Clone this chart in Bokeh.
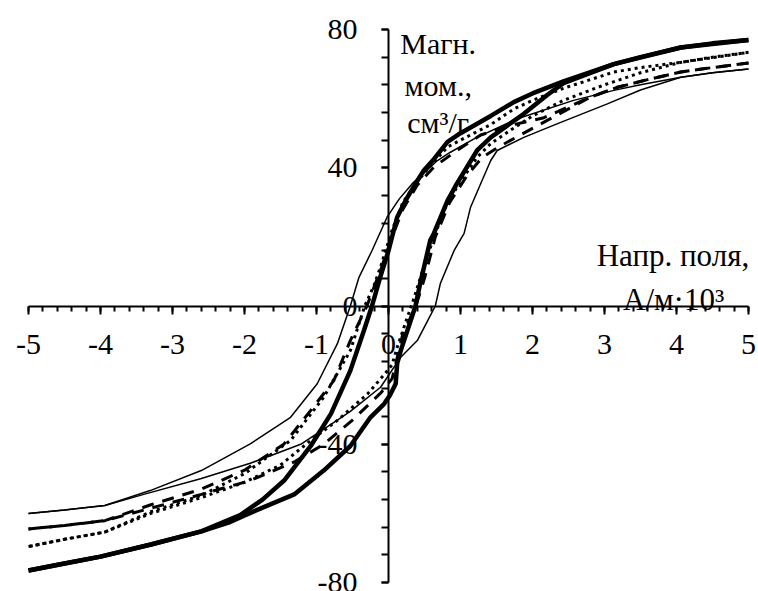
from bokeh.plotting import figure
from bokeh.models import SingleIntervalTicker, Label, CustomJSTickFormatter
from bokeh.embed import file_html
from bokeh.resources import INLINE

# --- data ---
thick_desc_x = [5.0, 4.5, 4.06, 3.5, 3.13, 2.43, 2.0, 1.74, 1.42, 1.0, 0.82, 0.63, 0.49, 0.375, 0.25, 0.12, 0.0, -0.12, -0.23, -0.34, -0.53, -0.8, -1.08, -1.45, -1.75, -2.06, -2.6, -3.3, -4.0, -4.5, -5.0]
thick_desc_y = [77, 76, 74.8, 72, 70, 65, 61.5, 59, 55, 50, 47.5, 42.5, 39.2, 35.4, 31, 25.7, 16, 8, 0, -7, -18.7, -31.2, -40.5, -50.5, -56, -60.5, -65.2, -69, -72.5, -74.5, -76.5]
thick_asc_x = [-5.0, -4.5, -4.0, -3.3, -2.6, -2.2, -1.88, -1.31, -0.9, -0.53, -0.25, -0.06, 0.02, 0.1, 0.12, 0.17, 0.375, 0.44, 0.58, 0.63, 0.82, 0.95, 1.23, 1.42, 1.88, 2.2, 2.43, 3.13, 4.06, 5.0]
thick_asc_y = [-76.5, -74.5, -72.5, -69, -65.2, -62.5, -59.5, -54.5, -47.6, -40.5, -32.2, -28.3, -25.8, -22.5, -16.7, -12.9, 0, 6.5, 19, 21, 30.5, 35.4, 45, 48.8, 55.6, 61, 64.5, 70, 74.8, 77]

dot_desc_x = [5.0, 4.5, 4.06, 3.5, 3.13, 2.43, 2.0, 1.74, 1.42, 1.0, 0.82, 0.6, 0.4, 0.2, 0.05, -0.1, -0.2, -0.33, -0.53, -0.9, -1.36, -2.0, -2.6, -3.3, -3.94, -4.5, -5.0]
dot_desc_y = [73.4, 72, 70.5, 69, 67.7, 63, 59.5, 57, 52.5, 48, 46, 41, 36, 30, 22, 12, 6, 0, -12.9, -26.4, -38.9, -48.5, -54.8, -59.5, -65.4, -67.5, -69.6]
dot_asc_x = [-5.0, -4.5, -3.94, -3.3, -2.61, -2.0, -1.5, -1.08, -0.71, -0.29, -0.07, 0.05, 0.12, 0.25, 0.35, 0.5, 0.65, 0.82, 1.0, 1.23, 1.42, 1.74, 2.0, 2.43, 3.0, 3.5, 4.06, 5.0]
dot_asc_y = [-69.6, -67.5, -65.4, -60, -55.5, -51, -46, -38.9, -33.1, -25.4, -20.1, -17, -12, -4, 2, 12, 21, 30, 36, 43, 47, 51.5, 55, 59.5, 64, 67.5, 70.5, 73.4]

dash_desc_x = [5.0, 4.5, 4.06, 3.6, 3.18, 2.8, 2.16, 1.74, 1.28, 0.95, 0.63, 0.4, 0.2, 0.05, -0.1, -0.3, -0.53, -0.76, -1.08, -1.45, -2.0, -2.6, -3.3, -3.94, -4.5, -5.0]
dash_desc_y = [70.3, 69, 67.7, 65.5, 63.3, 60.4, 54.5, 52.5, 49.5, 45, 40.2, 35, 28, 20, 11, 0, -10, -21.6, -30.2, -39.9, -47.5, -53, -57.5, -62.1, -63.5, -64.5]
dash_asc_x = [-5.0, -4.5, -3.94, -3.3, -2.6, -1.92, -1.3, -0.9, -0.5, -0.1, 0.05, 0.12, 0.2, 0.38, 0.5, 0.65, 0.85, 1.1, 1.3, 1.56, 2.16, 2.8, 3.18, 3.6, 4.06, 4.5, 5.0]
dash_asc_y = [-64.5, -63.5, -62.1, -58.5, -54.5, -50.5, -45, -40, -33, -25, -21, -15, -8, 0, 8, 20, 30, 38, 43, 46.4, 53.2, 60.4, 63.3, 65.5, 67.7, 69, 70.3]

thin_desc_x = [5.0, 4.5, 4.06, 3.5, 3.13, 2.57, 1.79, 1.2, 0.86, 0.68, 0.33, 0.15, -0.02, -0.23, -0.41, -0.53, -0.71, -0.99, -1.36, -1.92, -2.6, -3.31, -3.94, -4.5, -5.0]
thin_desc_y = [68.6, 67.5, 66.2, 64, 62.4, 59.5, 54.2, 48.5, 44.5, 42.1, 35.4, 31, 25.7, 16, 8.3, 0, -10.9, -22.5, -32.2, -39.9, -47.6, -53.4, -57.7, -59, -60]
thin_asc_x = [-5.0, -4.5, -3.94, -3.4, -2.61, -1.92, -1.64, -1.22, -0.71, -0.53, -0.11, 0.17, 0.4, 0.55, 0.65, 0.72, 0.91, 1.05, 1.14, 1.28, 1.42, 1.51, 1.88, 2.34, 3.04, 3.5, 4.06, 4.5, 5.0]
thin_asc_y = [-60, -59, -57.7, -54.5, -50, -45.5, -43.3, -40, -33, -30.5, -23.5, -14.8, -10, -4, 0, 6.5, 16, 21, 28.6, 35.4, 42.1, 45, 48.8, 52.7, 58.5, 62.5, 66.2, 67.5, 68.6]

x_bounds = (-5, 5)
y_bounds = (-80, 80)
x_ticks_interval = 1
y_ticks_interval = 40

FONT = "Liberation Serif"

p = figure(width=758, height=591, x_range=(-5.389, 5.139), y_range=(-82.6, 88.4),
           output_backend="svg", toolbar_location=None,
           min_border_left=0, min_border_right=0, min_border_top=0, min_border_bottom=0)
p.outline_line_color = None
p.xgrid.visible = False
p.ygrid.visible = False
p.background_fill_color = "white"
p.border_fill_color = "white"

fmt = CustomJSTickFormatter(code="return tick.toString();")
for ax, b in ((p.xaxis[0], x_bounds), (p.yaxis[0], y_bounds)):
    ax.fixed_location = 0
    ax.bounds = b
    ax.formatter = fmt
    ax.axis_line_width = 2
    ax.axis_line_color = "black"
    ax.major_tick_line_width = 2
    ax.minor_tick_line_width = 2
    ax.major_tick_line_color = "black"
    ax.minor_tick_line_color = "black"
    ax.major_tick_in = 0
    ax.minor_tick_in = 0
    ax.major_label_text_font = FONT
    ax.major_label_text_font_size = "30px"
    ax.major_label_text_color = "black"

p.xaxis[0].ticker = SingleIntervalTicker(interval=x_ticks_interval, num_minor_ticks=5)
p.yaxis[0].ticker = SingleIntervalTicker(interval=y_ticks_interval, num_minor_ticks=5)
p.xaxis[0].major_tick_out = 8
p.xaxis[0].minor_tick_out = 5
p.xaxis[0].major_label_standoff = 21
p.yaxis[0].major_tick_out = 7
p.yaxis[0].minor_tick_out = 7
p.yaxis[0].major_label_standoff = 24

p.line(thin_desc_x, thin_desc_y, line_color="black", line_width=1.5)
p.line(thin_asc_x, thin_asc_y, line_color="black", line_width=1.5)
p.line(dash_desc_x, dash_desc_y, line_color="black", line_width=3, line_dash="12 9")
p.line(dash_asc_x, dash_asc_y, line_color="black", line_width=3, line_dash="12 9")
p.line(dot_desc_x, dot_desc_y, line_color="black", line_width=3, line_dash="3 4")
p.line(dot_asc_x, dot_asc_y, line_color="black", line_width=3, line_dash="3 4")
p.line(thick_desc_x, thick_desc_y, line_color="black", line_width=4.5)
p.line(thick_asc_x, thick_asc_y, line_color="black", line_width=4.5)

def lab(x, y, t, size="30px"):
    p.add_layout(Label(x=x, y=y, text=t, text_font=FONT, text_font_size=size,
                       text_align="center", text_baseline="alphabetic", text_color="black"))

lab(0.69, 76.0, "Магн.")
lab(0.69, 63.8, "мом.,")
lab(0.69, 53.1, "см³/г")
lab(3.95, 14.6, "Напр. поля,", "31px")
lab(3.96, 1.9, "А/м·10³", "31px")

open("out.html", "w").write(file_html(p, INLINE))
